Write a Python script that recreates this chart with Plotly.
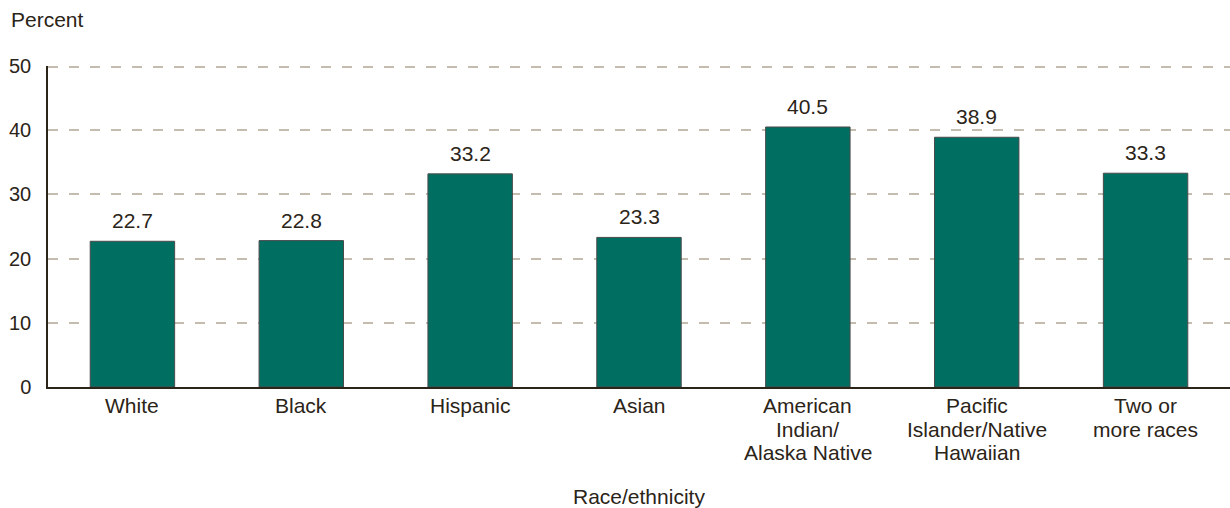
import plotly.graph_objects as go

categories = ["White", "Black", "Hispanic", "Asian",
              "American Indian/ Alaska Native",
              "Pacific Islander/Native Hawaiian",
              "Two or more races"]
category_lines = [["White"], ["Black"], ["Hispanic"], ["Asian"],
                  ["American", "Indian/", "Alaska Native"],
                  ["Pacific", "Islander/Native", "Hawaiian"],
                  ["Two or", "more races"]]
values = [22.7, 22.8, 33.2, 23.3, 40.5, 38.9, 33.3]
y_ticks = [0, 10, 20, 30, 40, 50]

text_color = "#2B2418"
grid_color = "#C4BDAF"
font = "Liberation Sans, Arial, sans-serif"
FS = 21

fig = go.Figure(go.Bar(
    x=categories, y=values,
    marker=dict(color="#006F62", line=dict(color="#4A4A4A", width=1)),
    width=0.5,
    hoverinfo="skip",
))

annotations = [
    dict(text="Percent", xref="paper", yref="paper", x=(9 - 48) / 1182, y=1 + 46 / 321,
         xanchor="left", yanchor="middle", showarrow=False,
         font=dict(size=FS, color=text_color, family=font)),
    dict(text="Race/ethnicity", xref="paper", yref="paper", x=(639 - 48) / 1182, y=-(496 - 387) / 321,
         xanchor="center", yanchor="middle", showarrow=False,
         font=dict(size=FS, color=text_color, family=font)),
]
for cat, v in zip(categories, values):
    annotations.append(dict(
        text=f"{v:.1f}", xref="x", yref="y", x=cat, y=v,
        yshift=7, xanchor="center", yanchor="bottom", showarrow=False,
        font=dict(size=FS, color=text_color, family=font)))
for cat, lines in zip(categories, category_lines):
    for i, line in enumerate(lines):
        annotations.append(dict(
            text=line, xref="x", yref="paper", x=cat, y=0,
            yshift=-(18.5 + 23.5 * i), xanchor="center", yanchor="middle",
            showarrow=False, font=dict(size=FS, color=text_color, family=font)))

fig.update_layout(
    width=1230, height=508,
    margin=dict(l=48, r=0, t=66, b=121),
    plot_bgcolor="white", paper_bgcolor="white",
    font=dict(family=font, size=FS, color=text_color),
    showlegend=False,
    bargap=0.5,
    annotations=annotations,
    shapes=[dict(type="line", xref="paper", yref="y", x0=0, x1=1,
                 y0=max(y_ticks), y1=max(y_ticks), layer="below",
                 line=dict(color=grid_color, width=4, dash="10px,11px"))],
)
fig.update_xaxes(
    showline=True, linecolor="#2B2418", linewidth=2,
    showgrid=False, ticks="", showticklabels=False,
    range=[-0.5, 6.5], automargin=False,
)
fig.update_yaxes(
    range=[0, 50], tickvals=y_ticks,
    showline=True, linecolor="#2B2418", linewidth=1.5,
    showgrid=True, gridcolor=grid_color, gridwidth=2, griddash="10px,11px",
    zeroline=False, ticks="", ticklabelstandoff=11,
    tickfont=dict(size=20, color=text_color), automargin=False,
)

fig.write_html("out.html", config={"displayModeBar": False},
               post_script="document.body.style.margin='0';")
